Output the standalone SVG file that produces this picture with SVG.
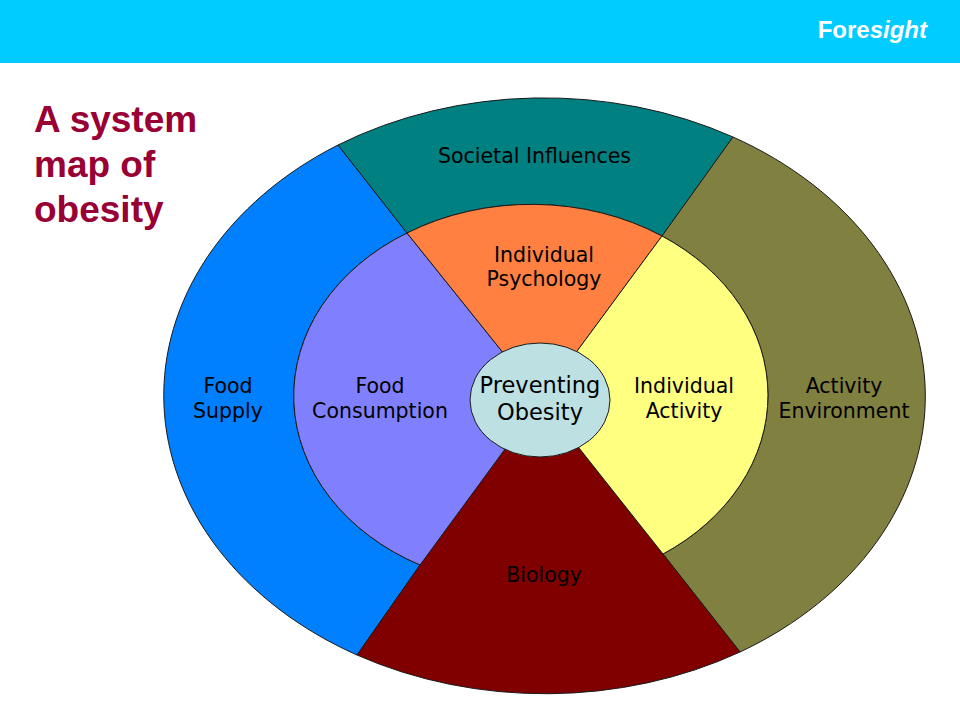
<svg xmlns="http://www.w3.org/2000/svg" width="960" height="720" viewBox="0 0 960 720">
<style>
.seg{stroke:#1a1a1a;stroke-width:1;stroke-linejoin:round}
.lbl{font-family:"DejaVu Sans",Verdana,sans-serif;font-size:20.5px;fill:#000;text-anchor:middle}
.ctr{font-family:"DejaVu Sans",Verdana,sans-serif;font-size:22.5px;fill:#000;text-anchor:middle}
.title{font-family:"Liberation Sans",Arial,sans-serif;font-weight:bold;font-size:37px;fill:#990033}
</style>
<rect x="0" y="0" width="960" height="720" fill="#ffffff"/>
<rect x="0" y="0" width="960" height="63" fill="#00ccff"/>
<text x="927" y="38" text-anchor="end" font-family="'Liberation Sans',Arial,sans-serif" font-weight="bold" font-size="24" fill="#ffffff">Fore<tspan font-style="italic">sight</tspan></text>
<g id="title">
<text class="title" x="34" y="132">A system</text>
<text class="title" x="34" y="177">map of</text>
<text class="title" x="34" y="222">obesity</text>
</g>
<g id="food-supply">
<path class="seg" fill="#0080ff" d="M338,145 A382,298.5 0 0 0 357,655 L420,565 A236.5,191 0 0 1 407,233 Z"/>
<text class="lbl" x="228" y="393">Food</text>
<text class="lbl" x="228" y="418">Supply</text>
</g>
<g id="societal-influences">
<path class="seg" fill="#008080" d="M338,145 A382,298.5 0 0 1 733,137 L662,236 A236.5,191 0 0 0 407,233 Z"/>
<text class="lbl" x="534.5" y="163">Societal Influences</text>
</g>
<g id="activity-environment">
<path class="seg" fill="#808040" d="M733,137 A382,298.5 0 0 1 740,652 L663,554 A236.5,191 0 0 0 662,236 Z"/>
<text class="lbl" x="844" y="393">Activity</text>
<text class="lbl" x="844" y="418">Environment</text>
</g>
<g id="biology">
<path class="seg" fill="#800000" d="M357,655 L420,565 L541,400 L663,554 L740,652 A382,298.5 0 0 1 357,655 Z"/>
<text class="lbl" x="544" y="582">Biology</text>
</g>
<g id="food-consumption">
<path class="seg" fill="#8080ff" d="M407,233 L541,400 L420,565 A236.5,191 0 0 1 407,233 Z"/>
<text class="lbl" x="380" y="393">Food</text>
<text class="lbl" x="380" y="418">Consumption</text>
</g>
<g id="individual-psychology">
<path class="seg" fill="#ff8040" d="M407,233 A236.5,191 0 0 1 662,236 L541,400 Z"/>
<text class="lbl" x="544" y="262">Individual</text>
<text class="lbl" x="544" y="286">Psychology</text>
</g>
<g id="individual-activity">
<path class="seg" fill="#ffff80" d="M662,236 A236.5,191 0 0 1 663,554 L541,400 Z"/>
<text class="lbl" x="684" y="393">Individual</text>
<text class="lbl" x="684" y="418">Activity</text>
</g>
<g id="preventing-obesity">
<ellipse class="seg" cx="540" cy="400" rx="70" ry="57" fill="#bde0e3"/>
<text class="ctr" x="540" y="393">Preventing</text>
<text class="ctr" x="540" y="420">Obesity</text>
</g>
<g id="connectors"></g>
</svg>
